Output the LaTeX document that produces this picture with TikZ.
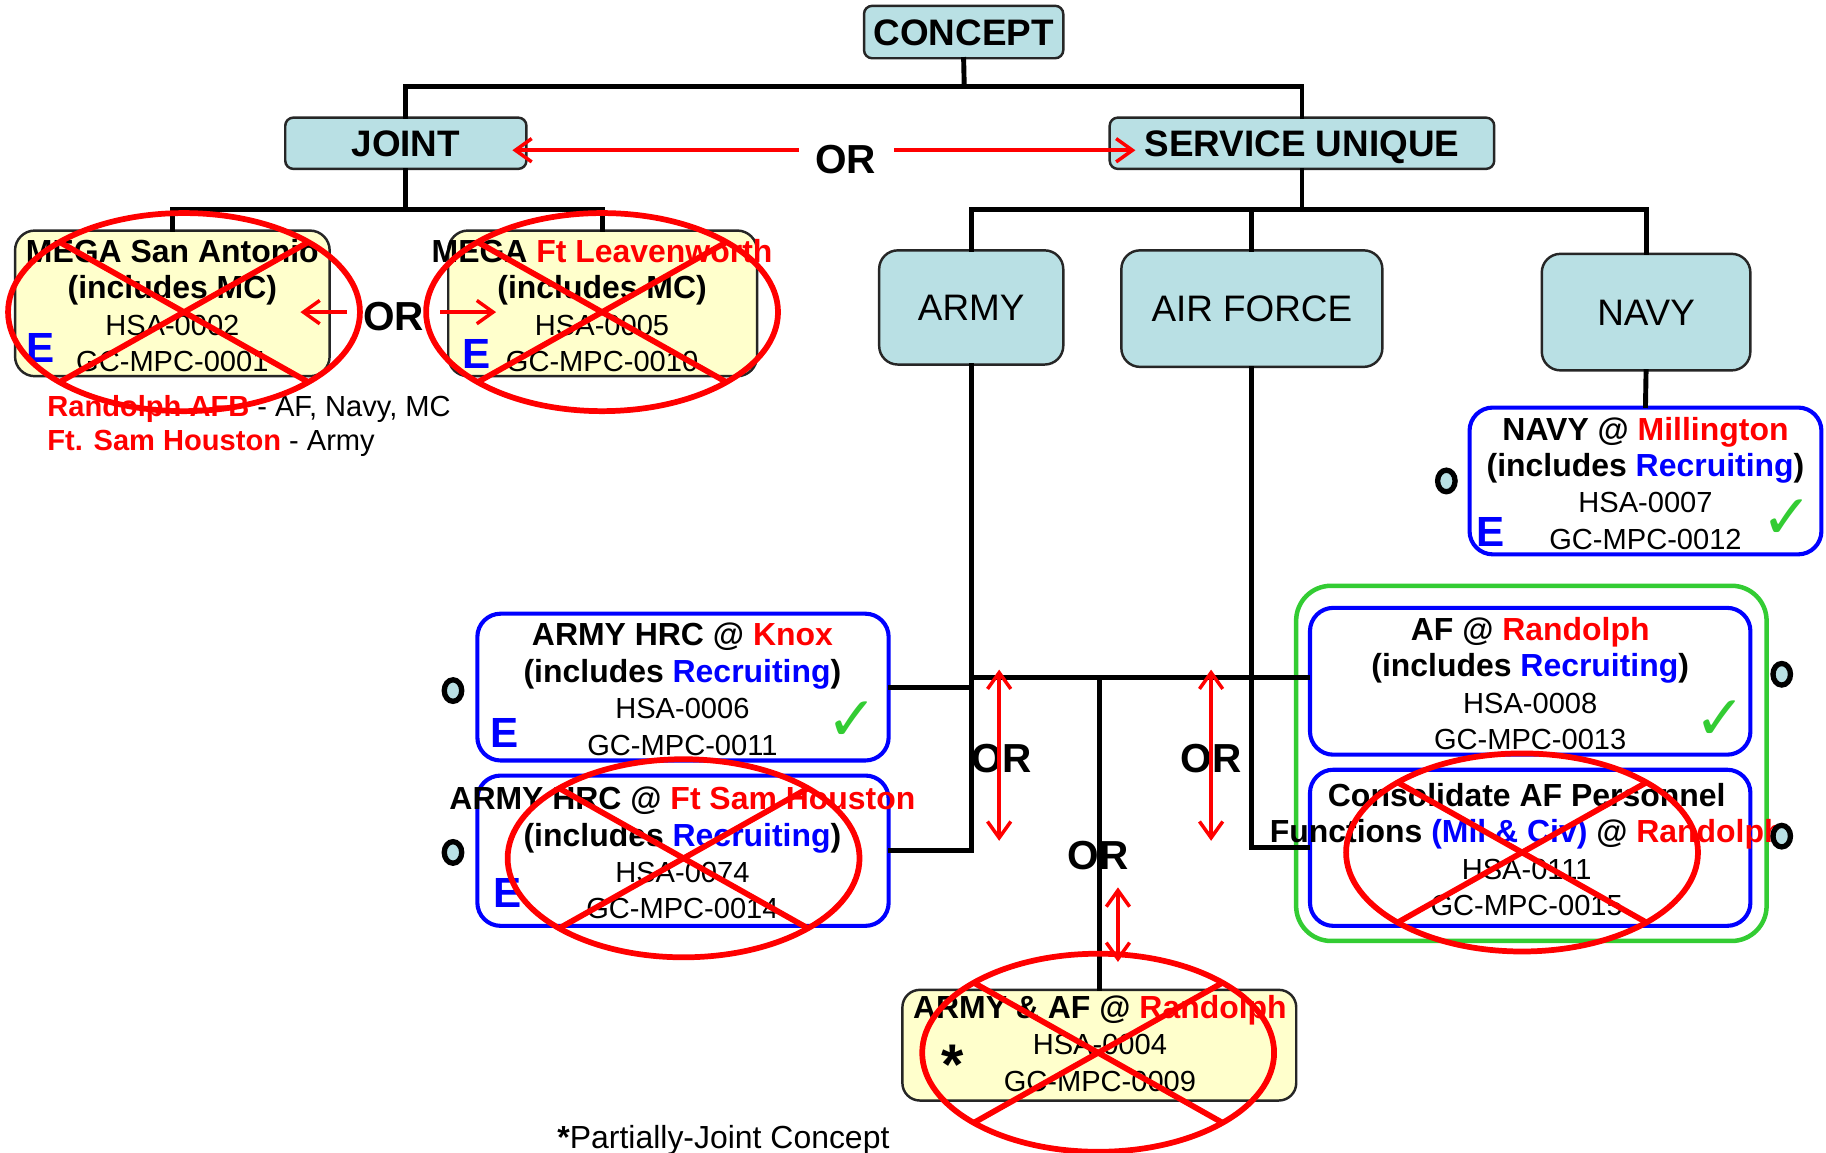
\documentclass[tikz,border=0pt]{standalone}
\usepackage{fontspec}
\setmainfont{Liberation Sans}
\newfontfamily\symfont{DejaVu Sans}
\usepackage{tikz}
\usetikzlibrary{arrows.meta, shapes.geometric, calc}

\definecolor{boxblue}{RGB}{185,224,228}
\definecolor{boxyellow}{RGB}{255,255,204}
\definecolor{okgreen}{RGB}{51,204,51}

\newcommand{\boldln}[1]{{\fontsize{7.8}{8.9}\selectfont\bfseries #1}}
\newcommand{\redtx}[1]{\textcolor{red}{#1}}
\newcommand{\bluetx}[1]{\textcolor{blue}{#1}}

\begin{document}
\begin{tikzpicture}[x=0.01cm, y=-0.01cm, >={Straight Barb[length=1.4mm,width=2mm]},
	hdr/.style={draw=black!85, fill=boxblue, rounded corners=0.7mm, line width=0.6pt, inner sep=0pt, text height=6.5pt, text depth=0pt, font=\fontsize{9}{10}\selectfont\bfseries},
	svc/.style={draw=black!85, fill=boxblue, rounded corners=1.6mm, line width=0.6pt, inner sep=0pt, text height=6.5pt, text depth=0pt, font=\fontsize{9}{10}\selectfont},
	yel/.style={draw=black!85, fill=boxyellow, rounded corners=1.7mm, line width=0.6pt, inner sep=0pt},
	site/.style={draw=blue, fill=white, rounded corners=2mm, line width=1pt, inner sep=0pt},
	txt/.style={align=center, inner sep=0pt, font=\fontsize{7.1}{8.9}\selectfont},
	tree/.style={line width=1.2pt, line cap=rect},
	ee/.style={text=blue, inner sep=0pt, font=\fontsize{10.3}{12}\selectfont\bfseries},
	chk/.style={text=okgreen, inner sep=0pt, font=\symfont\fontsize{15}{16}\selectfont},
	ring/.style={ellipse, draw=black, fill=boxblue, line width=1.3pt, inner sep=0pt, minimum width=0.15cm, minimum height=0.185cm},
	ortx/.style={inner sep=0pt, font=\fontsize{9.9}{11}\selectfont\bfseries},
	orarr/.style={red, line width=0.85pt},
	cross/.style={red, line width=1.4pt}]

	\useasboundingbox (0,0) rectangle (1568,990);

	% gruener Rahmen
	\draw[okgreen, line width=1.1pt, rounded corners=3mm] (1113,503) rectangle (1517,808);

	\node[hdr, minimum width=1.71cm, minimum height=0.45cm](concept) at (827.5,27.5) {CONCEPT};
	\node[hdr, minimum width=2.07cm, minimum height=0.44cm](joint) at (348.5,123) {JOINT};
	\node[hdr, minimum width=3.30cm, minimum height=0.44cm](service) at (1118,123) {SERVICE UNIQUE};

	\node[svc, minimum width=1.58cm, minimum height=0.98cm](army) at (834,264) {ARMY};
	\node[svc, minimum width=2.24cm, minimum height=1.00cm](airforce) at (1075,265) {AIR FORCE};
	\node[svc, minimum width=1.79cm, minimum height=1.00cm](navy) at (1413.5,268) {NAVY};

	\coordinate (cbar) at (828,74);
	\coordinate (jbar) at (348.5,180);
	\coordinate (sbar) at (1118,180);

	% Baum
	\draw[tree] (concept.south) -- (cbar);
	\draw[tree] (joint.north) |- (cbar) -| (service.north);
	\draw[tree] (joint.south) -- (jbar);
	\draw[tree] (service.south) -- (sbar);
	\draw[tree] (army.north) |- (sbar) -| (navy.north);
	\draw[tree] (airforce.north) -- (airforce.north |- sbar);

	\node[yel, minimum width=2.70cm, minimum height=1.25cm](msa) at (148,260.5) {};
	\node[yel, minimum width=2.65cm, minimum height=1.25cm](mfl) at (517.5,260.5) {};
	\draw[tree] (msa.north) |- (jbar) -| (mfl.north);

	\node[site, minimum width=3.02cm, minimum height=1.26cm](navym) at (1413,413) {};
	\node[site, minimum width=3.53cm, minimum height=1.26cm](knox) at (586.5,590) {};
	\node[site, minimum width=3.53cm, minimum height=1.29cm](fsh) at (586.5,730.5) {};
	\node[site, minimum width=3.78cm, minimum height=1.26cm](afr) at (1314,585) {};
	\node[site, minimum width=3.78cm, minimum height=1.34cm](cons) at (1314,728) {};
	\node[yel, rounded corners=1.5mm, minimum width=3.38cm, minimum height=0.95cm](aaf) at (944,897.5) {};

	\draw[tree] (navy.south) -- (navym.north);
	\draw[tree] (army.south) |- (fsh.east);
	\draw[tree] (knox.east) -- (knox.east -| army.south);
	\draw[tree] (airforce.south) |- (cons.west);
	\draw[tree] (army.south |- 0,582) -- (afr.west |- 0,582);
	\draw[tree] (aaf.north) -- (aaf.north |- 0,582);

	% Texte
	\node[txt](msa-t) at (148,262.5) {\boldln{MEGA San Antonio}\\ \boldln{(includes MC)}\\ HSA-0002\\ GC-MPC-0001};
	\node[txt](mfl-t) at (517,262.5) {\boldln{MEGA \redtx{Ft Leavenworth}}\\ \boldln{(includes MC)}\\ HSA-0005\\ GC-MPC-0010};
	\node[txt](navym-t) at (1413,415) {\boldln{NAVY @ \redtx{Millington}}\\ \boldln{(includes \bluetx{Recruiting})}\\ HSA-0007\\ GC-MPC-0012};
	\node[txt](knox-t) at (586,592) {\boldln{ARMY HRC @ \redtx{Knox}}\\ \boldln{(includes \bluetx{Recruiting})}\\ HSA-0006\\ GC-MPC-0011};
	\node[txt](fsh-t) at (586,732.5) {\boldln{ARMY HRC @ \redtx{Ft Sam Houston}}\\ \boldln{(includes \bluetx{Recruiting})}\\ HSA-0074\\ GC-MPC-0014};
	\node[txt](afr-t) at (1314,587) {\boldln{AF @ \redtx{Randolph}}\\ \boldln{(includes \bluetx{Recruiting})}\\ HSA-0008\\ GC-MPC-0013};
	\node[txt](cons-t) at (1311,729.5) {\boldln{Consolidate AF Personnel}\\ \boldln{Functions \bluetx{(Mil \& Civ)} @ \redtx{Randolph}}\\ HSA-0111\\ GC-MPC-0015};
	\node[txt](aaf-t) at (944.5,896) {\boldln{ARMY \& AF @ \redtx{Randolph}}\\ HSA-0004\\ GC-MPC-0009};

	\node[ee](msa-e) at (35,299) {E};
	\node[ee](mfl-e) at (409,304) {E};
	\node[ee](navym-e) at (1280,457) {E};
	\node[ee](knox-e) at (433,629) {E};
	\node[ee](fsh-e) at (436,767) {E};

	\node[chk](navym-c) at (1535,446) {✓};
	\node[chk](knox-c) at (732,619) {✓};
	\node[chk](afr-c) at (1477,618) {✓};

	\node[ring](navym-o) at (1242,413) {};
	\node[ring](knox-o) at (389,593) {};
	\node[ring](fsh-o) at (389,732) {};
	\node[ring](afr-o) at (1530,579) {};
	\node[ring](cons-o) at (1530,718) {};

	\node[inner sep=0pt, font=\fontsize{14}{14}\selectfont\bfseries](aaf-s) at (818,914) {*};

	\node[txt, anchor=west](leg1) at (40,351) {\textbf{\redtx{Randolph AFB}} - AF, Navy, MC};
	\node[txt, anchor=west](leg2) at (40,381) {\textbf{\redtx{Ft. Sam Houston}} - Army};
	\node[txt, anchor=west, font=\fontsize{7.8}{9}\selectfont](foot) at (478,979) {\textbf{*}Partially-Joint Concept};

	% OR Pfeile
	\node[ortx](or1) at (726,137) {OR};
	\node[ortx](or2) at (338,272) {OR};
	\node[ortx](or3) at (860,651) {OR};
	\node[ortx](or4) at (1040,651) {OR};
	\node[ortx](or5) at (943,735) {OR};

	\coordinate (a1) at (686,129);  \coordinate (a1e) at (440,129);
	\coordinate (a2) at (768,129);  \coordinate (a2e) at (975,129);
	\coordinate (a3) at (298,268);  \coordinate (a3e) at (258,268);
	\coordinate (a4) at (378,268);  \coordinate (a4e) at (426,268);
	\coordinate (a5) at (858,575);  \coordinate (a5e) at (858,722);
	\coordinate (a6) at (1040,575); \coordinate (a6e) at (1040,722);
	\coordinate (a7) at (960,762);  \coordinate (a7e) at (960,826);

	\draw[orarr, ->] (a1) -- (a1e);
	\draw[orarr, ->] (a2) -- (a2e);
	\draw[orarr, ->] (a3) -- (a3e);
	\draw[orarr, ->] (a4) -- (a4e);
	\draw[orarr, <->] (a5) -- (a5e);
	\draw[orarr, <->] (a6) -- (a6e);
	\draw[orarr, <->] (a7) -- (a7e);

	% durchgestrichen
	\foreach \cx/\cy in {158/268, 517/268, 587/737, 1307/732, 943/904}{
		\draw[cross] (\cx,\cy) ellipse (1.51cm and 0.85cm);
		\draw[cross] ($(\cx,\cy)+(45:1.51cm and 0.85cm)$) -- ($(\cx,\cy)+(225:1.51cm and 0.85cm)$);
		\draw[cross] ($(\cx,\cy)+(135:1.51cm and 0.85cm)$) -- ($(\cx,\cy)+(315:1.51cm and 0.85cm)$);
	}
\end{tikzpicture}
\end{document}
